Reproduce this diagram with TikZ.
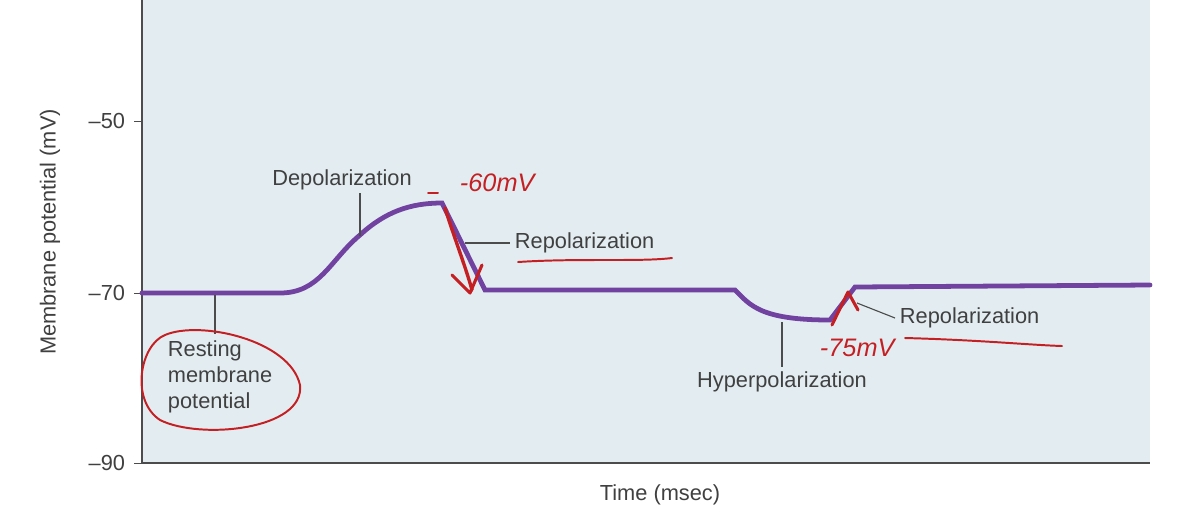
\documentclass[tikz,border=0pt]{standalone}
\usepackage{fontspec}
\setmainfont{Liberation Sans}
\definecolor{bg}{HTML}{E3EDF1}
\definecolor{pur}{HTML}{7142A0}
\definecolor{hr}{HTML}{C42024}
\begin{document}
\begin{tikzpicture}[x=0.025cm,y=-0.025cm,
  lab/.style={font=\fontsize{15.5}{17}\selectfont, text=black!75},
  lead/.style={draw=black!70, line width=0.8pt},
  curve/.style={draw=pur, line width=3.4pt, line cap=round},
  hand/.style={draw=hr, line width=1.4pt, line cap=round, line join=round},
  handt/.style={text=hr, font=\itshape\fontsize{18}{19}\selectfont}]
\useasboundingbox (0,0) rectangle (1188,528);
\fill[white] (0,0) rectangle (1188,528);
\fill[bg] (142,0) rectangle (1150,463);
\draw[black!70, line width=1pt] (142,0) -- (142,463) -- (1150,463);
\foreach \y/\t in {121/–50, 293/–70, 463/–90}{
  \draw[black!70] (134,\y) -- (142,\y);
  \node[lab, anchor=east] at (130,\y) {\t};}
\node[lab, rotate=90] (ylab) at (50,232) {Membrane potential (mV)};
\node[lab] (xlab) at (660,495) {Time (msec)};
% curve
\draw[curve] (142,293) -- (280,293) .. controls (320,293) and (330,260) .. (360,235)
  .. controls (385,212) and (410,203) .. (442,203) -- (485,290) -- (735,290)
  .. controls (750,305) and (760,320) .. (830,320) -- (855,287) -- (1150,285);
% labels
\node[lab] (dep) at (342,180) {Depolarization};
\draw[lead] (360,193) -- (360,236);
\node[lab, anchor=west] (rep1) at (510,243) {Repolarization};
\draw[lead] (465,243) -- (rep1.west);
\node[lab, anchor=north west, align=left, font=\fontsize{15.5}{18.5}\selectfont] (rest) at (163,336) {Resting\\membrane\\potential};
\draw[lead] (215,295) -- (215,334);
\node[lab] (hyp) at (782,382) {Hyperpolarization};
\draw[lead] (782,322) -- (hyp.north);
\node[lab, anchor=west] (rep2) at (895,318) {Repolarization};
\draw[lead] (857,303) -- (rep2.west);
% handwritten annotations
\node[handt, anchor=west] (n60) at (455,183) {-60mV};
\draw[hand] (428,193) -- (438,193);
\draw[hand, line width=2.4pt] (445,208) .. controls (455,240) and (465,265) .. (472,290);
\draw[hand, line width=2.2pt] (452,275) -- (470,293) -- (482,265);
\draw[hand] (518,262) .. controls (580,258) and (640,262) .. (672,258);
\draw[hand] (165,335) .. controls (200,320) and (290,340) .. (300,385)
  .. controls (305,430) and (200,440) .. (160,420) .. controls (130,400) and (140,345) .. (165,335);
\draw[hand, line width=2.2pt] (832,325) -- (848,292) -- (858,310);
\node[handt, anchor=west] (n75) at (815,348) {-75mV};
\draw[hand] (905,338) .. controls (980,340) and (1030,345) .. (1062,346);
\end{tikzpicture}
\end{document}
